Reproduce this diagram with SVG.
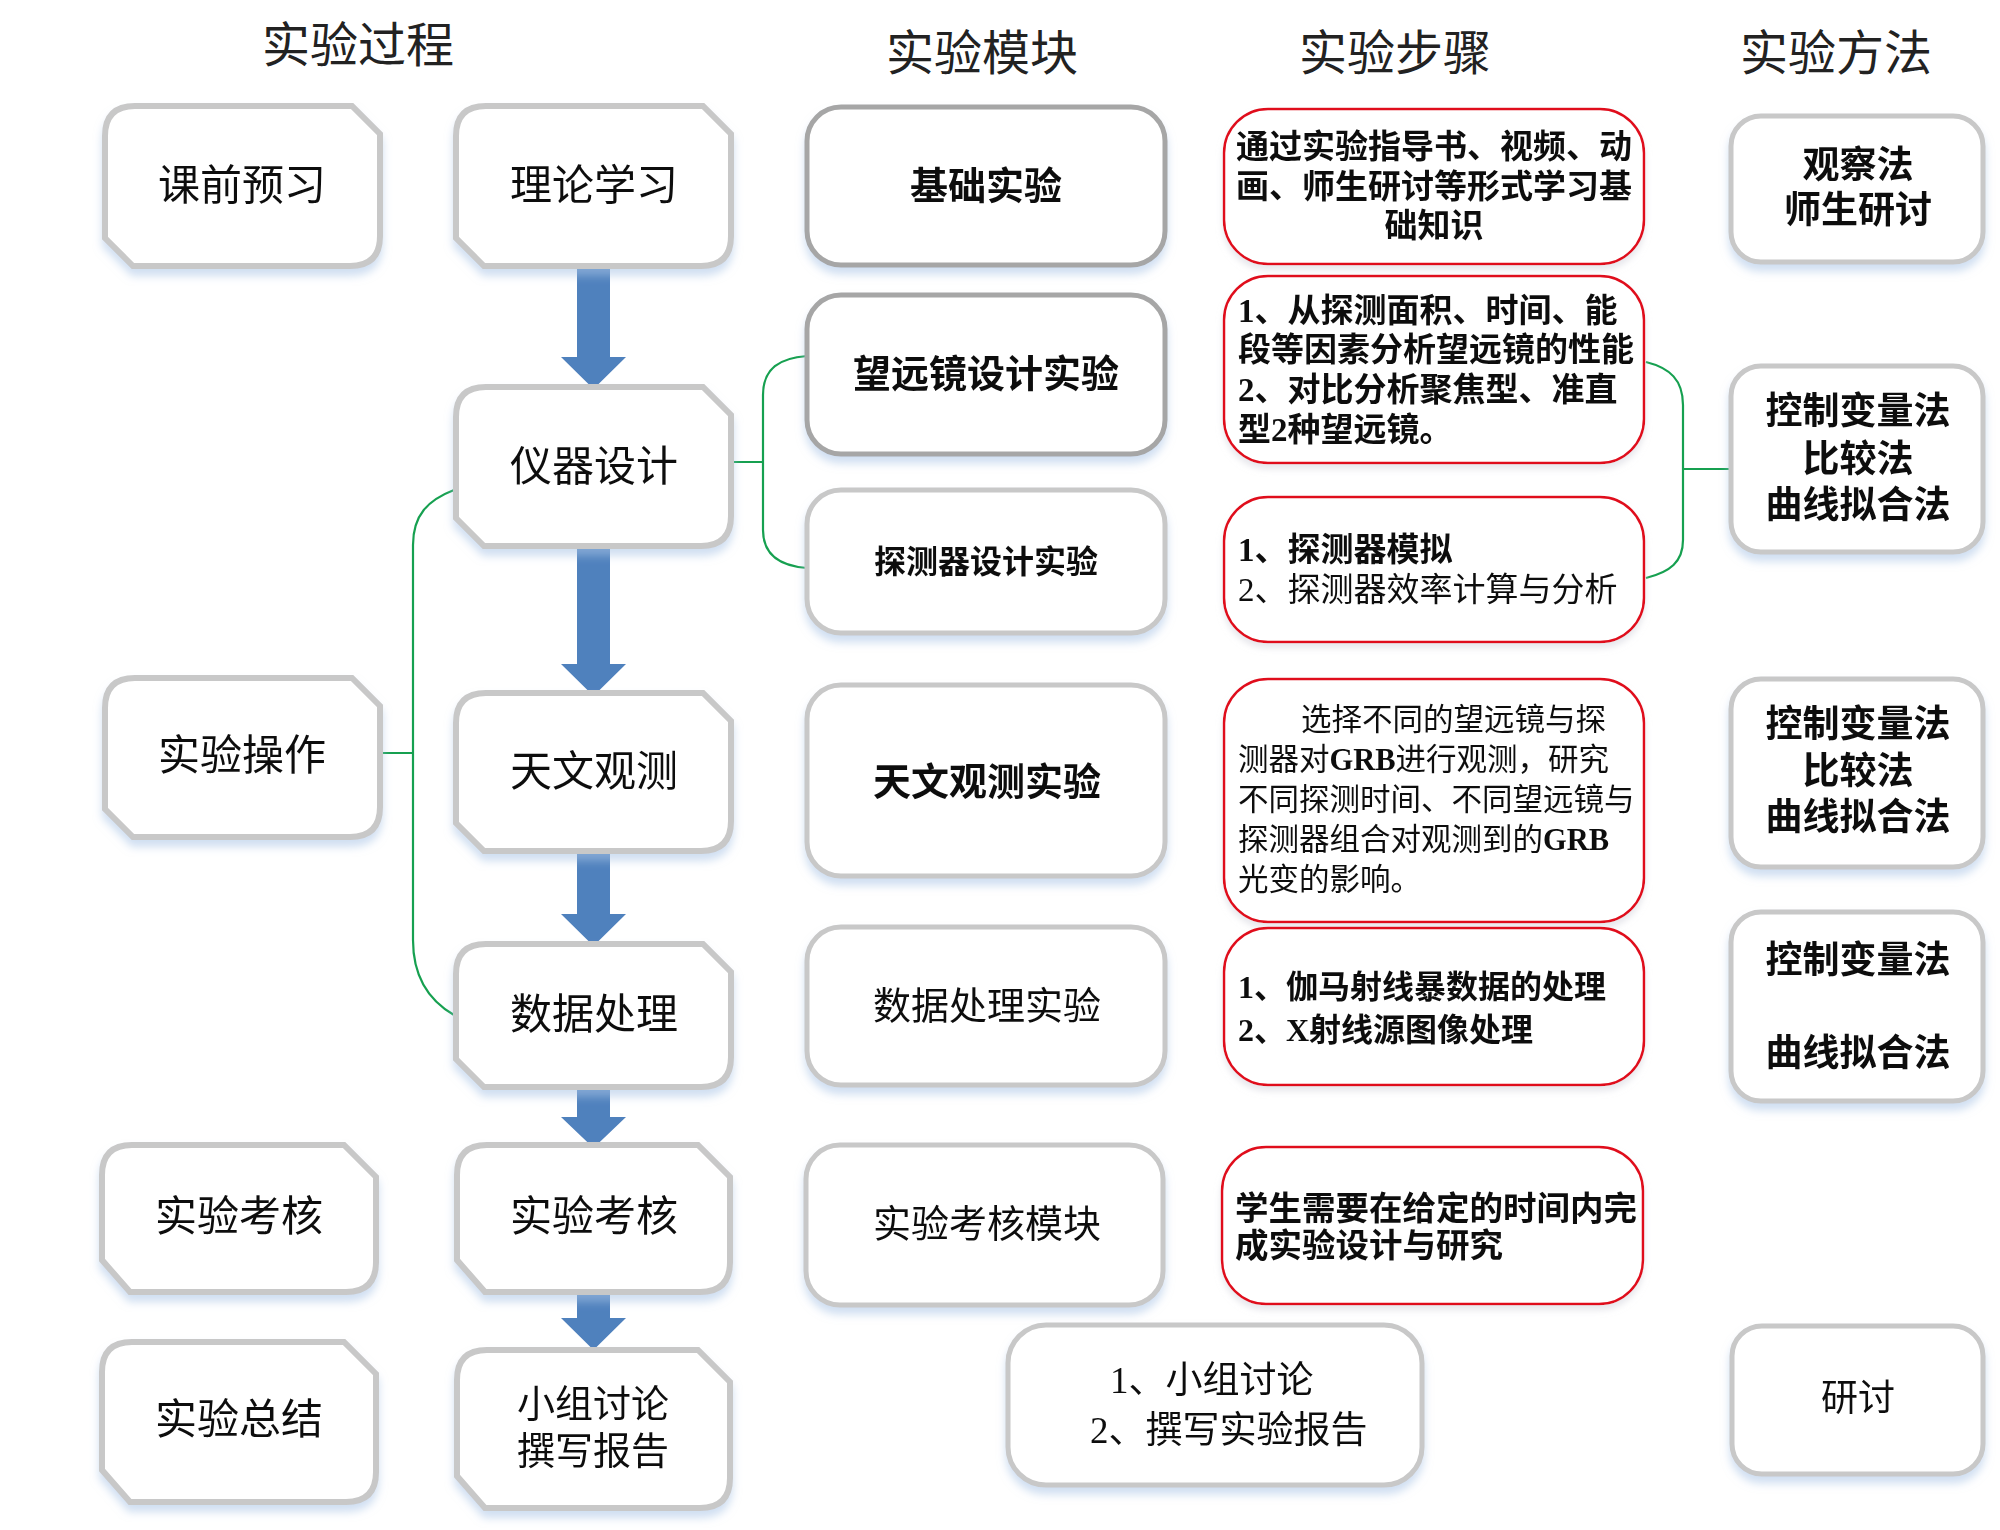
<svg xmlns="http://www.w3.org/2000/svg" width="2000" height="1530" viewBox="0 0 2000 1530">
<style>
text{font-family:"Liberation Serif","Noto Sans CJK SC",sans-serif;fill:#111;dominant-baseline:central}
.title{font-size:48px;text-anchor:middle;fill:#222}
.proc{fill:#fff;stroke:#c8c8c8;stroke-width:6}
.mod{fill:#fff;stroke:#c8c8c8;stroke-width:5}
.modd{fill:#fff;stroke:#a6a6a6;stroke-width:5}
.step{fill:#fff;stroke:#e0101e;stroke-width:2.5}
.meth{fill:#fff;stroke:#c8c8c8;stroke-width:5}
.pt{font-size:42px;text-anchor:middle}
.mt{font-size:38px;text-anchor:middle}
.b{font-weight:700}
.st{font-size:33px}
.me{font-size:37px;text-anchor:middle;font-weight:700}
.arrow{fill:#4f81bd}
.green{fill:none;stroke:#16a050;stroke-width:2.2}
</style>
<defs>
<filter id="sh" x="-10%" y="-10%" width="120%" height="135%">
<feGaussianBlur in="SourceAlpha" stdDeviation="4"/>
<feOffset dy="7" result="b"/>
<feFlood flood-color="#a9c4e6" flood-opacity="0.55"/>
<feComposite in2="b" operator="in"/>
<feMerge><feMergeNode/><feMergeNode in="SourceGraphic"/></feMerge>
</filter>
<filter id="shr" x="-10%" y="-10%" width="120%" height="135%">
<feGaussianBlur in="SourceAlpha" stdDeviation="3"/>
<feOffset dy="5" result="b"/>
<feFlood flood-color="#d8d8e0" flood-opacity="0.6"/>
<feComposite in2="b" operator="in"/>
<feMerge><feMergeNode/><feMergeNode in="SourceGraphic"/></feMerge>
</filter>
</defs>
<rect width="2000" height="1530" fill="#fff"/>

<g id="titles">
<text class="title" x="358" y="45">实验过程</text>
<text class="title" x="982" y="53">实验模块</text>
<text class="title" x="1395" y="53">实验步骤</text>
<text class="title" x="1836" y="53">实验方法</text>
</g>

<g id="connectors">
<path class="arrow" d="M577 264H610V357H626L593.5 389L561 357H577Z"/>
<path class="arrow" d="M577 546H610V664H626L593.5 696L561 664H577Z"/>
<path class="arrow" d="M577 851H610V914H626L593.5 946L561 914H577Z"/>
<path class="arrow" d="M577 1087H610V1117H626L593.5 1148L561 1117H577Z"/>
<path class="arrow" d="M577 1288H610V1318H626L593.5 1350L561 1318H577Z"/>
<path class="green" d="M731 462H763M807 356C780 358 763 368 763 395V530C763 555 780 566 807 568"/>
<path class="green" d="M454 490C428 500 413 515 413 545V940C413 975 428 1000 454 1015M380 753H413"/>
<path class="green" d="M1646 362C1670 368 1683 380 1683 405V540C1683 562 1670 572 1646 578M1683 469H1731"/>
</g>

<g id="n-kqyx" filter="url(#sh)">
<path class="proc" d="M135 106H352L380 134V236Q380 266 350 266H133L105 238V136Q105 106 135 106Z"/>
<text class="pt" x="242" y="186">课前预习</text>
</g>
<g id="n-llxx" filter="url(#sh)">
<path class="proc" d="M486 106H703L731 134V236Q731 266 701 266H484L456 238V136Q456 106 486 106Z"/>
<text class="pt" x="594" y="186">理论学习</text>
</g>
<g id="n-yqsj" filter="url(#sh)">
<path class="proc" d="M486 387H703L731 415V516Q731 546 701 546H484L456 518V417Q456 387 486 387Z"/>
<text class="pt" x="594" y="467">仪器设计</text>
</g>
<g id="n-sycz" filter="url(#sh)">
<path class="proc" d="M135 678H352L380 706V807Q380 837 350 837H133L105 809V708Q105 678 135 678Z"/>
<text class="pt" x="242" y="756">实验操作</text>
</g>
<g id="n-twgc" filter="url(#sh)">
<path class="proc" d="M486 693H703L731 721V821Q731 851 701 851H484L456 823V723Q456 693 486 693Z"/>
<text class="pt" x="594" y="772">天文观测</text>
</g>
<g id="n-sjcl" filter="url(#sh)">
<path class="proc" d="M486 944H703L731 972V1057Q731 1087 701 1087H484L456 1059V974Q456 944 486 944Z"/>
<text class="pt" x="594" y="1015">数据处理</text>
</g>
<g id="n-sykh1" filter="url(#sh)">
<path class="proc" d="M132 1145H344L376 1177V1262Q376 1292 346 1292H130L102 1260V1175Q102 1145 132 1145Z"/>
<text class="pt" x="239" y="1217">实验考核</text>
</g>
<g id="n-sykh2" filter="url(#sh)">
<path class="proc" d="M487 1145H698L730 1177V1262Q730 1292 700 1292H485L457 1260V1175Q457 1145 487 1145Z"/>
<text class="pt" x="594" y="1217">实验考核</text>
</g>
<g id="n-syzj" filter="url(#sh)">
<path class="proc" d="M132 1342H344L376 1374V1472Q376 1502 346 1502H130L102 1470V1372Q102 1342 132 1342Z"/>
<text class="pt" x="239" y="1420">实验总结</text>
</g>
<g id="n-xztl" filter="url(#sh)">
<path class="proc" d="M487 1350H698L730 1382V1478Q730 1508 700 1508H485L457 1476V1380Q457 1350 487 1350Z"/>
<text class="mt" x="593" y="1404">小组讨论</text>
<text class="mt" x="593" y="1451">撰写报告</text>
</g>

<g id="m-jcsy" filter="url(#sh)">
<rect class="modd" x="807" y="107" width="358" height="158" rx="34"/>
<text class="mt b" x="986" y="186">基础实验</text>
</g>
<g id="m-wyj" filter="url(#sh)">
<rect class="modd" x="807" y="295" width="358" height="159" rx="34"/>
<text class="mt b" x="986" y="374">望远镜设计实验</text>
</g>
<g id="m-tcq" filter="url(#sh)">
<rect class="mod" x="807" y="490" width="358" height="143" rx="34"/>
<text class="b" x="986" y="562" style="font-size:32px;text-anchor:middle">探测器设计实验</text>
</g>
<g id="m-twgc" filter="url(#sh)">
<rect class="mod" x="807" y="685" width="358" height="191" rx="34"/>
<text class="mt b" x="987" y="782">天文观测实验</text>
</g>
<g id="m-sjcl" filter="url(#sh)">
<rect class="mod" x="807" y="927" width="358" height="158" rx="34"/>
<text class="mt" x="987" y="1006">数据处理实验</text>
</g>
<g id="m-sykh" filter="url(#sh)">
<rect class="mod" x="806" y="1145" width="357" height="160" rx="34"/>
<text class="mt" x="987" y="1224">实验考核模块</text>
</g>
<g id="m-xztl" filter="url(#sh)">
<rect class="mod" x="1008" y="1325" width="414" height="160" rx="38"/>
<text x="1110" y="1380" style="font-size:37px">1、小组讨论</text>
<text x="1090" y="1430" style="font-size:37px">2、撰写实验报告</text>
</g>

<g id="s-1" filter="url(#shr)">
<rect class="step" x="1224" y="109" width="420" height="155" rx="44"/>
<text class="st b" x="1434" y="147" text-anchor="middle">通过实验指导书、视频、动</text>
<text class="st b" x="1434" y="187" text-anchor="middle">画、师生研讨等形式学习基</text>
<text class="st b" x="1434" y="226" text-anchor="middle">础知识</text>
</g>
<g id="s-2" filter="url(#shr)">
<rect class="step" x="1224" y="276" width="420" height="187" rx="44"/>
<text class="st b" x="1238" y="311">1、从探测面积、时间、能</text>
<text class="st b" x="1238" y="350">段等因素分析望远镜的性能</text>
<text class="st b" x="1238" y="390">2、对比分析聚焦型、准直</text>
<text class="st b" x="1238" y="430">型2种望远镜。</text>
</g>
<g id="s-3" filter="url(#shr)">
<rect class="step" x="1224" y="497" width="420" height="145" rx="44"/>
<text class="st b" x="1238" y="550">1、探测器模拟</text>
<text class="st" x="1238" y="590">2、探测器效率计算与分析</text>
</g>
<g id="s-4" filter="url(#shr)">
<rect class="step" x="1224" y="679" width="420" height="243" rx="44"/>
<text x="1301" y="720" style="font-size:30.5px">选择不同的望远镜与探</text>
<text x="1238" y="760" style="font-size:30.5px">测器对<tspan font-weight="700">GRB</tspan>进行观测，研究</text>
<text x="1238" y="800" style="font-size:30.5px">不同探测时间、不同望远镜与</text>
<text x="1238" y="840" style="font-size:30.5px">探测器组合对观测到的<tspan font-weight="700">GRB</tspan></text>
<text x="1238" y="880" style="font-size:30.5px">光变的影响。</text>
</g>
<g id="s-5" filter="url(#shr)">
<rect class="step" x="1224" y="928" width="420" height="157" rx="44"/>
<text class="b" x="1238" y="987" style="font-size:32px">1、伽马射线暴数据的处理</text>
<text class="b" x="1238" y="1030" style="font-size:32px">2、X射线源图像处理</text>
</g>
<g id="s-6" filter="url(#shr)">
<rect class="step" x="1222" y="1147" width="421" height="157" rx="44"/>
<text class="b" x="1235" y="1208" style="font-size:33.5px">学生需要在给定的时间内完</text>
<text class="b" x="1235" y="1245" style="font-size:33.5px">成实验设计与研究</text>
</g>

<g id="f-1" filter="url(#sh)">
<rect class="meth" x="1731" y="116" width="252" height="146" rx="30"/>
<text class="me" x="1858" y="165">观察法</text>
<text class="me" x="1858" y="210">师生研讨</text>
</g>
<g id="f-2" filter="url(#sh)">
<rect class="meth" x="1731" y="366" width="252" height="186" rx="30"/>
<text class="me" x="1858" y="411">控制变量法</text>
<text class="me" x="1858" y="459">比较法</text>
<text class="me" x="1858" y="505">曲线拟合法</text>
</g>
<g id="f-3" filter="url(#sh)">
<rect class="meth" x="1731" y="679" width="252" height="188" rx="30"/>
<text class="me" x="1858" y="724">控制变量法</text>
<text class="me" x="1858" y="771">比较法</text>
<text class="me" x="1858" y="817">曲线拟合法</text>
</g>
<g id="f-4" filter="url(#sh)">
<rect class="meth" x="1731" y="912" width="252" height="189" rx="30"/>
<text class="me" x="1858" y="960">控制变量法</text>
<text class="me" x="1858" y="1053">曲线拟合法</text>
</g>
<g id="f-5" filter="url(#sh)">
<rect class="meth" x="1732" y="1326" width="251" height="148" rx="30"/>
<text class="me" x="1858" y="1398" style="font-weight:400">研讨</text>
</g>
</svg>
